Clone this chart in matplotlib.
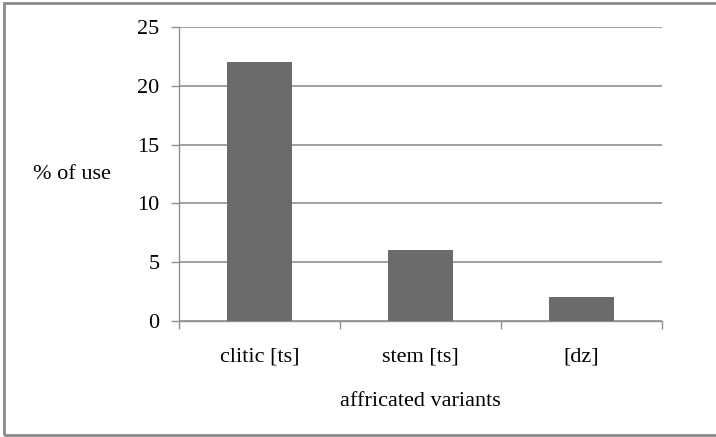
import matplotlib.pyplot as plt
import matplotlib.patches as mpatches
import numpy as np

plt.rcParams['font.family'] = ['Liberation Serif', 'DejaVu Serif']

categories = ["clitic [ts]", "stem [ts]", "[dz]"]
values = [22, 6, 2]
yticks = [0, 5, 10, 15, 20, 25]

grid_c = "#909090"
bar_c = "#6b6b6b"
fs = 16

fig = plt.figure(figsize=(7.16, 4.37), dpi=100)
ax = fig.add_axes([179/716, 1-321/437, (662-179)/716, (321-27)/437])

x = np.arange(len(categories))
ax.bar(x, values, width=0.4, color=bar_c, zorder=3)

ax.set_xlim(-0.5, len(categories)-0.5)
ax.set_ylim(0, 25)
ax.set_yticks(yticks)
ax.yaxis.grid(True, color=grid_c, linewidth=1.2, zorder=0)
ax.set_axisbelow(True)

# category ticks at boundaries
ax.set_xticks(np.arange(len(categories)+1)-0.5)
ax.set_xticklabels([])
ax.set_xticks(x, minor=True)
ax.set_xticklabels(categories, minor=True, fontsize=fs)
ax.tick_params(axis='x', which='minor', length=0, pad=19)
ax.tick_params(axis='x', which='major', length=6, color=grid_c, width=1)
ax.tick_params(axis='y', length=6, color=grid_c, width=1, labelsize=fs, pad=8)

for s in ['top', 'right']:
    ax.spines[s].set_visible(False)
for s in ['left', 'bottom']:
    ax.spines[s].set_color(grid_c)
    ax.spines[s].set_linewidth(1)

ax.set_xlabel("affricated variants", fontsize=fs)
ax.xaxis.set_label_coords(0.5, -(392-321)/294)
fig.text(33/716, 1-175/437, "% of use", fontsize=fs, va='center', ha='left')

# outer frame
fig.patches.append(mpatches.Rectangle((4/716, 2/437), 1.1, 432/437, transform=fig.transFigure,
                                      fill=False, edgecolor="#8a8a8a", linewidth=2))

fig.savefig("out.png", dpi=100)
